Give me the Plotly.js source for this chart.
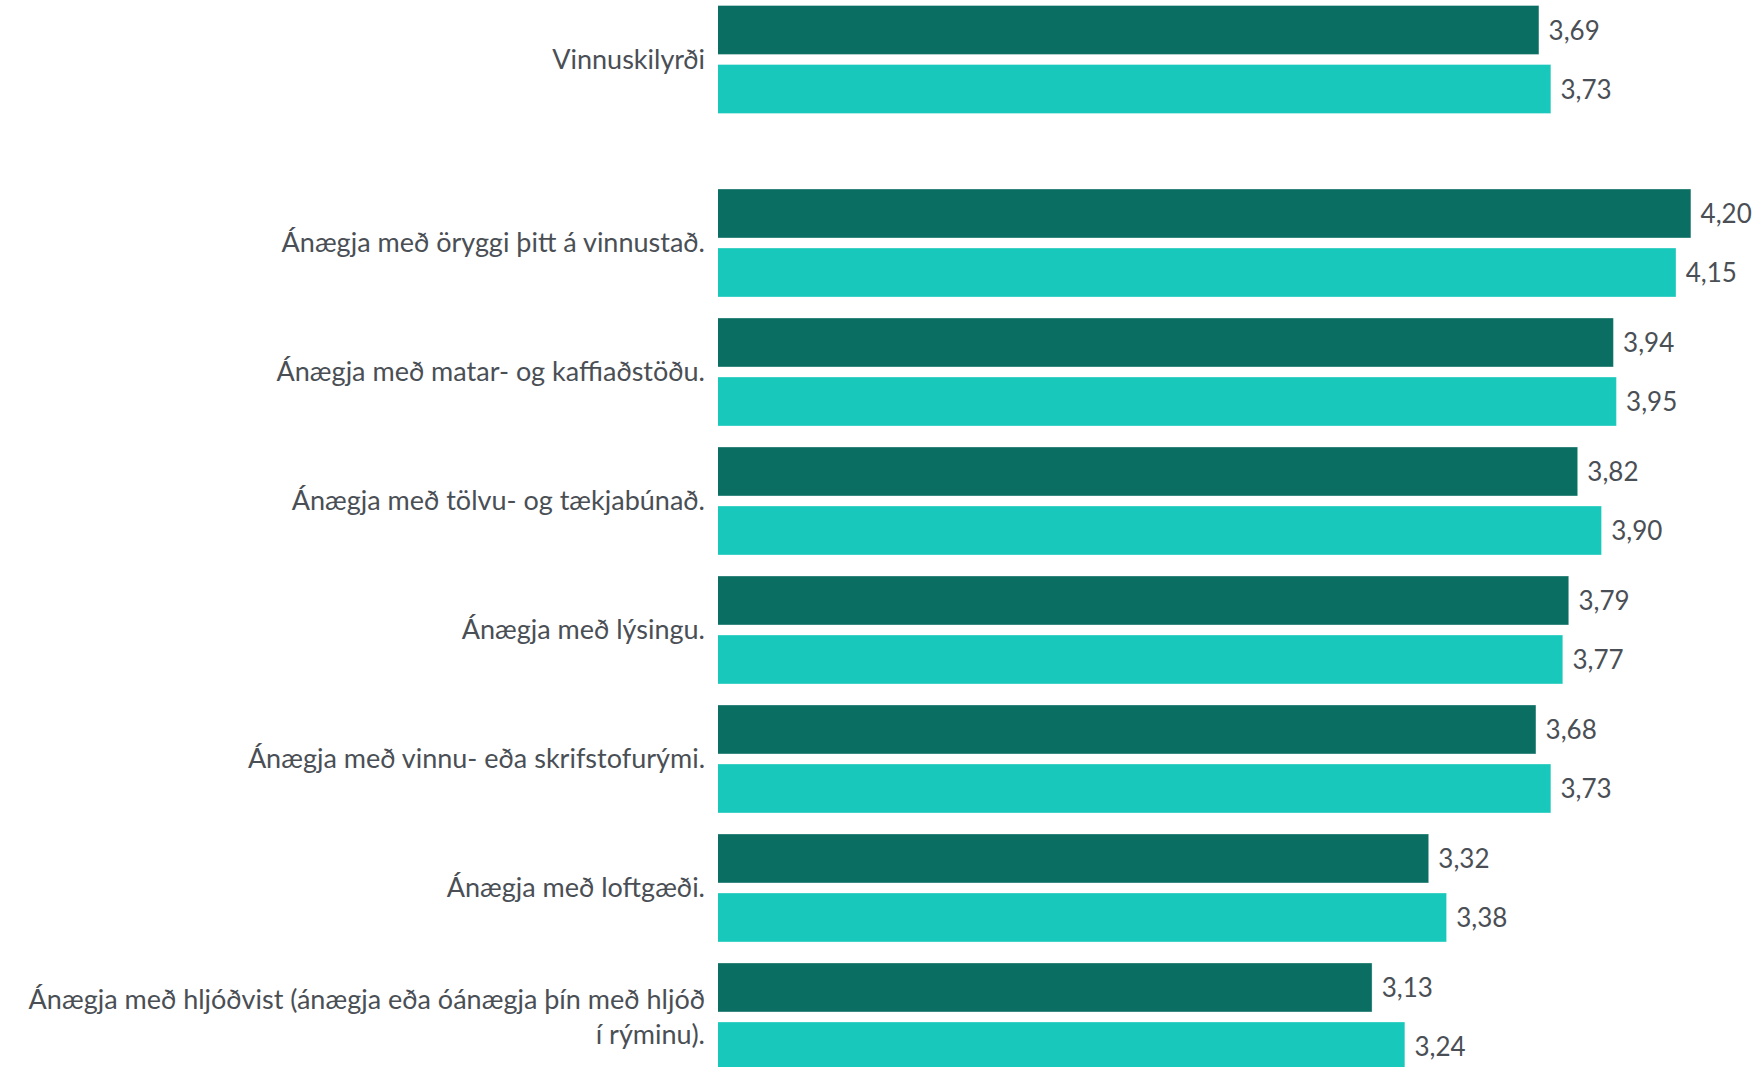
<!DOCTYPE html>
<html>
<head>
<meta charset="utf-8">
<script src="https://cdn.plot.ly/plotly-3.0.1.min.js"></script>
<style>html,body{margin:0;padding:0;background:#fff;}#chart{width:1752px;height:1067px;}</style>
</head>
<body>
<div id="chart"></div>
<script>
// Summary category (top block)
var summaryCategories = ["Vinnuskilyrði"];
var summarySeriesA = [3.69];
var summarySeriesB = [3.73];

// Detail categories (bottom block)
var detailCategories = [
  "Ánægja með öryggi þitt á vinnustað.",
  "Ánægja með matar- og kaffiaðstöðu.",
  "Ánægja með tölvu- og tækjabúnað.",
  "Ánægja með lýsingu.",
  "Ánægja með vinnu- eða skrifstofurými.",
  "Ánægja með loftgæði.",
  "Ánægja með hljóðvist (ánægja eða óánægja þín með hljóð<br>í rýminu)."
];
var detailSeriesA = [4.20, 3.94, 3.82, 3.79, 3.68, 3.32, 3.13];
var detailSeriesB = [4.15, 3.95, 3.90, 3.77, 3.73, 3.38, 3.24];

var darkColor = "#0b6e63";
var lightColor = "#17c8bb";
var textColor = "#4a4f55";
var fontFamily = "Lato, 'Noto Sans', sans-serif";

function barTrace(x, y, color, yaxis, name) {
  return {
    type: "bar", orientation: "h", x: x, y: y, name: name,
    xaxis: "x", yaxis: yaxis,
    marker: {color: color, line: {color: "rgba(255,255,255,0.35)", width: 1}},
    text: x, texttemplate: "\u00a0%{x:.2f}", textposition: "outside",
    outsidetextfont: {family: fontFamily, size: 26, color: textColor},
    constraintext: "none", cliponaxis: false, hoverinfo: "skip"
  };
}

var data = [
  barTrace(summarySeriesA, summaryCategories, darkColor, "y2", "A"),
  barTrace(summarySeriesB, summaryCategories, lightColor, "y2", "B"),
  barTrace(detailSeriesA, detailCategories, darkColor, "y", "A"),
  barTrace(detailSeriesB, detailCategories, lightColor, "y", "B")
];

var layout = {
  width: 1752, height: 1067,
  margin: {l: 718, r: 0, t: 0, b: 0, pad: 0},
  paper_bgcolor: "#fff", plot_bgcolor: "#fff",
  showlegend: false,
  barmode: "group", bargap: 0.085, bargroupgap: 0.17,
  separators: ", ",
  font: {family: fontFamily, size: 27, color: textColor},
  xaxis: {range: [0.935, 4.405], visible: false, showgrid: false, zeroline: false, fixedrange: true},
  yaxis: {
    domain: [0, 0.83271], anchor: "x", type: "category",
    categoryorder: "array", categoryarray: detailCategories,
    range: [6.388, -0.5], showgrid: false, zeroline: false, showline: false,
    ticks: "", ticklabelstandoff: 12,
    tickfont: {family: fontFamily, size: 27, color: textColor}
  },
  yaxis2: {
    domain: [0.88379, 1], anchor: "x", type: "category",
    categoryorder: "array", categoryarray: summaryCategories,
    range: [0.5, -0.461], showgrid: false, zeroline: false, showline: false,
    ticks: "", ticklabelstandoff: 12,
    tickfont: {family: fontFamily, size: 27, color: textColor}
  }
};

Plotly.newPlot("chart", data, layout, {displayModeBar: false, staticPlot: true});
</script>
</body>
</html>
